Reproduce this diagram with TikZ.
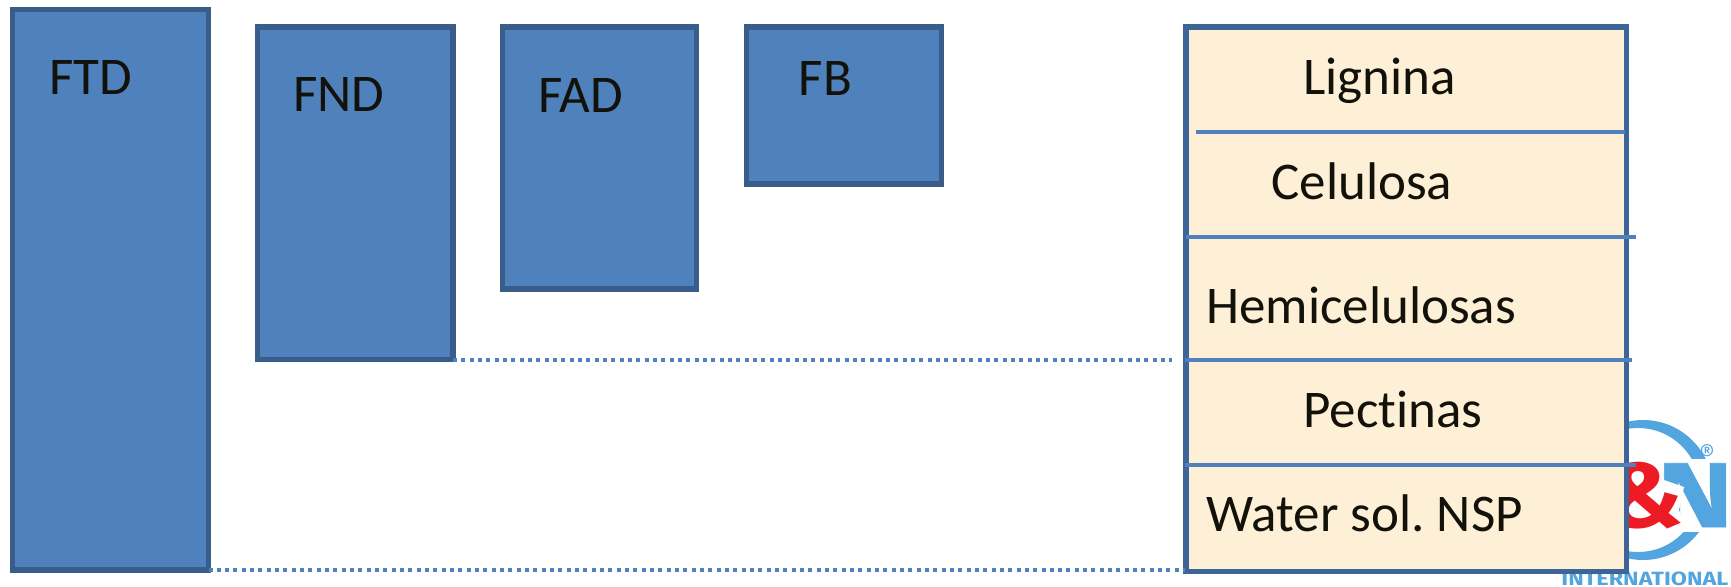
\documentclass[tikz,border=0pt]{standalone}
\usepackage{fontspec}
\setmainfont{Carlito}[Ligatures=NoCommon]
\newfontfamily\logofont{Fira Sans}
\usepackage{tikz}
\newcommand{\figuresize}{0.5pt}
\definecolor{boxfill}{HTML}{4F81BD}
\definecolor{boxline}{HTML}{385D8A}
\definecolor{tablefill}{HTML}{FDF0D6}
\definecolor{tableline}{HTML}{3E6597}
\definecolor{inktext}{HTML}{12120A}
\definecolor{logoblue}{HTML}{53A5DF}
\definecolor{logored}{HTML}{ED1C24}
\tikzset{
	fibrebox/.style={draw=boxline,fill=boxfill,line width=5.5*\figuresize,rectangle,inner sep=0pt,outer sep=0pt,anchor=north west},
	tablebox/.style={draw=tableline,fill=tablefill,line width=5.5*\figuresize,rectangle,inner sep=0pt,outer sep=0pt,anchor=north west},
	fibretext/.style={anchor=base west,inner sep=0pt,text=inktext,font=\fontsize{26.5}{30}\selectfont},
	rowline/.style={draw=boxfill,line width=4*\figuresize},
	limitline/.style={draw=boxfill,line width=4*\figuresize,dash pattern=on 4*\figuresize off 4.33*\figuresize},
	logotext/.style={inner sep=0pt,anchor=base west},
}
\newcommand{\makefibre}[7]{
	\node[fibrebox,minimum width=#4*\figuresize,minimum height=#5*\figuresize] (#1) at (#2,#3) {};
	\node[fibretext] (#1text) at (#6,#7) {#1};
}
\newcommand{\makerow}[3]{
	\node[fibretext] (#1) at (#2,#3) {#1};
}

\begin{document}
\begin{tikzpicture}[x=\figuresize,y=-\figuresize]
	\useasboundingbox (0,0) rectangle (1731,586);

	% logo sits behind the table
	\begin{scope}
	\clip (1600,400) rectangle (1726,586);
	\fill[logoblue,even odd rule] (1643,490) circle (70) (1638,490) circle (62);
	\fill[white] (1631,458.5) rectangle (1731,531.5);
	\node[logotext,text=logoblue,font=\logofont\bfseries\addfontfeature{FakeBold=1}\fontsize{46}{46}\selectfont] (logoN) at (1652,527) {\scalebox{1.4}[1]{N}};
	\fill[white] (1625,460) -- (1664,460) -- (1664,480) -- (1684,487) -- (1679,510) -- (1686,530) -- (1625,530) -- cycle;
	\node[logotext,text=logored,font=\logofont\bfseries\fontsize{46}{46}\selectfont] (logoAmp) at (1606,527) {\scalebox{1.1}[1]{\&}};
	\end{scope}
	\node[logotext,text=logoblue,font=\logofont\fontsize{12}{12}\selectfont] (logoR) at (1699,462) {®};
	\node[logotext,text=logoblue,font=\logofont\bfseries\fontsize{9.6}{12}\selectfont] (logoInt) at (1561,585) {\scalebox{1.22}[1]{INTERNATIONAL}};

	\makefibre{FTD}{12.5}{9.5}{196}{560.5}{49}{94}
	\makefibre{FND}{257.5}{27}{195.5}{332.5}{293}{111}
	\makefibre{FAD}{502.5}{27}{194}{262}{538}{112}
	\makefibre{FB}{746.5}{27}{195}{157}{798.5}{95}

	\node[tablebox,minimum width=440.5*\figuresize,minimum height=544.5*\figuresize] (table) at (1186,27) {};

	\coordinate (rowA) at (1196,132);
	\coordinate (rowAend) at (1625,132);
	\coordinate (rowB) at (1186,237);
	\coordinate (rowBend) at (1636,237);
	\coordinate (rowC) at (1185,360);
	\coordinate (rowCend) at (1632,360);
	\coordinate (rowD) at (1185,465);
	\coordinate (rowDend) at (1636,465);
	\coordinate (endFND) at (1172,359.5);
	\coordinate (endFTD) at (1185,570);

	\draw[rowline] (rowA) -- (rowAend);
	\draw[rowline] (rowB) -- (rowBend);
	\draw[rowline] (rowC) -- (rowCend);
	\draw[rowline] (rowD) -- (rowDend);

	\draw[limitline] (FND.south east) -- (endFND);
	\draw[limitline] (FTD.south east) -- (endFTD);

	\makerow{Lignina}{1303}{94}
	\makerow{Celulosa}{1271}{199}
	\makerow{Hemicelulosas}{1206}{323}
	\makerow{Pectinas}{1303}{427}
	\node[fibretext] (water) at (1206,531) {Water sol.\ NSP};
\end{tikzpicture}
\end{document}
